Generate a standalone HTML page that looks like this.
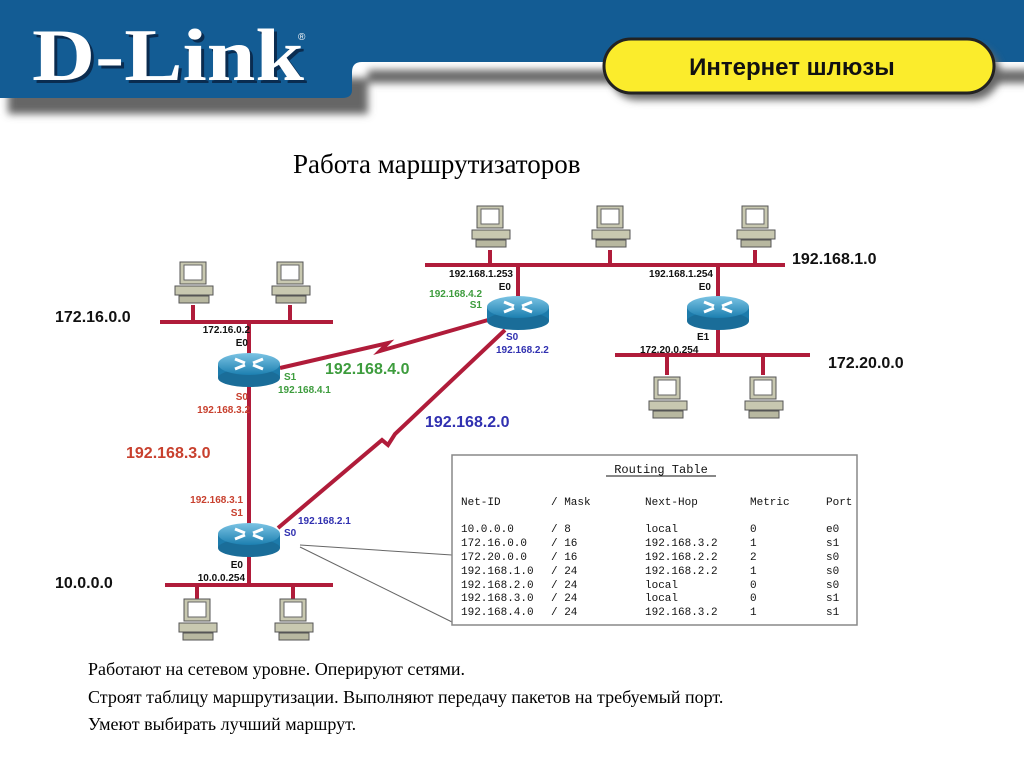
<!DOCTYPE html>
<html><head><meta charset="utf-8"><style>
body{margin:0;width:1024px;height:768px;overflow:hidden;background:#fff;font-family:"Liberation Sans",sans-serif}
</style></head><body>
<svg width="1024" height="768" viewBox="0 0 1024 768" xmlns="http://www.w3.org/2000/svg">
<defs>
<linearGradient id="rg" x1="0" y1="0" x2="0" y2="1"><stop offset="0" stop-color="#7cc4e4"/><stop offset="1" stop-color="#1c7fb0"/></linearGradient>
<filter id="bl" x="-10%" y="-50%" width="120%" height="200%"><feGaussianBlur stdDeviation="4"/></filter>
<g id="pc">
<rect x="-13" y="0" width="26" height="22" fill="#c8c8b0" stroke="#555" stroke-width="1"/>
<rect x="-9" y="3" width="18" height="15" fill="#fff" stroke="#666" stroke-width="1"/>
<rect x="-18" y="24" width="38" height="9" fill="#c8c8b0" stroke="#555"/>
<rect x="-14" y="34" width="30" height="7" fill="#b8b8a0" stroke="#555"/>
</g>
<g id="rt">
<rect x="-31" y="-4" width="62" height="14" fill="#1d7bab"/>
<ellipse cx="0" cy="10" rx="31" ry="9" fill="#1a6d99"/>
<ellipse cx="0" cy="-4" rx="31" ry="11" fill="url(#rg)"/>
<path d="M-14,-9 L-4,-5 M14,-9 L4,-5 M-14,1 L-4,-3 M14,1 L4,-3" stroke="#fff" stroke-width="3"/>
</g>
</defs>
<!-- header -->
<path d="M0,70 L360,70 L360,106 L0,106 Z M360,62 L1024,62 L1024,75 L360,75Z" fill="#666" filter="url(#bl)" transform="translate(8,8)"/>
<path d="M0,0 L1024,0 L1024,62 L362,62 Q352,62 352,72 L352,90 Q352,98 342,98 L0,98Z" fill="#135c94"/>
<text x="32" y="80" font-family="Liberation Serif,serif" font-weight="bold" font-size="74" fill="#0a2c50" textLength="272" lengthAdjust="spacingAndGlyphs" transform="translate(3,3)">D-Link</text>
<text x="32" y="80" font-family="Liberation Serif,serif" font-weight="bold" font-size="74" fill="#fff" textLength="272" lengthAdjust="spacingAndGlyphs">D-Link</text>
<text x="298" y="40" font-size="10" fill="#fff">®</text>
<rect x="610" y="46" width="390" height="54" rx="27" fill="#666" filter="url(#bl)"/>
<rect x="604" y="39" width="390" height="54" rx="27" fill="#fbec2c" stroke="#222" stroke-width="3"/>
<text x="792" y="75" text-anchor="middle" font-weight="bold" font-size="24" fill="#111">Интернет шлюзы</text>
<text x="293" y="173" font-family="Liberation Serif,serif" font-size="27" fill="#000">Работа маршрутизаторов</text>
<!-- lines -->
<g stroke="#b01c3a" stroke-width="4" fill="none">
<line x1="160" y1="322" x2="333" y2="322"/>
<line x1="193" y1="305" x2="193" y2="322"/><line x1="290" y1="305" x2="290" y2="322"/>
<line x1="249" y1="322" x2="249" y2="585"/>
<line x1="165" y1="585" x2="333" y2="585"/>
<line x1="197" y1="585" x2="197" y2="600"/><line x1="293" y1="585" x2="293" y2="600"/>
<line x1="425" y1="265" x2="785" y2="265"/>
<line x1="490" y1="250" x2="490" y2="265"/><line x1="610" y1="250" x2="610" y2="265"/><line x1="755" y1="250" x2="755" y2="265"/>
<line x1="518" y1="265" x2="518" y2="300"/>
<line x1="718" y1="265" x2="718" y2="355"/>
<line x1="615" y1="355" x2="810" y2="355"/>
<line x1="667" y1="355" x2="667" y2="375"/><line x1="763" y1="355" x2="763" y2="375"/>
<polyline points="280,368 388,343 380,351 495,318"/>
<polyline points="505,330 395,434 388,445 382,440 278,528"/>
</g>
<line x1="300" y1="545" x2="452" y2="555" stroke="#666" stroke-width="1"/>
<line x1="300" y1="547" x2="452" y2="622" stroke="#666" stroke-width="1"/>
<use href="#pc" x="193" y="262"/><use href="#pc" x="290" y="262"/>
<use href="#pc" x="490" y="206"/><use href="#pc" x="610" y="206"/><use href="#pc" x="755" y="206"/>
<use href="#pc" x="667" y="377"/><use href="#pc" x="763" y="377"/>
<use href="#pc" x="197" y="599"/><use href="#pc" x="293" y="599"/>
<use href="#rt" x="249" y="368"/><use href="#rt" x="518" y="311"/><use href="#rt" x="718" y="311"/><use href="#rt" x="249" y="538"/>
<!-- labels -->
<g font-weight="bold">
<text x="55" y="322" font-size="16" fill="#111">172.16.0.0</text>
<text x="792" y="264" font-size="16" fill="#111">192.168.1.0</text>
<text x="828" y="368" font-size="16" fill="#111">172.20.0.0</text>
<text x="55" y="588" font-size="16" fill="#111">10.0.0.0</text>
<text x="126" y="458" font-size="16" fill="#c8402e">192.168.3.0</text>
<text x="325" y="374" font-size="16" fill="#3d9c3d">192.168.4.0</text>
<text x="425" y="427" font-size="16" fill="#3030b0">192.168.2.0</text>
<g font-size="10">
<text x="250" y="333" text-anchor="end" fill="#111">172.16.0.2</text><text x="248" y="346" text-anchor="end" fill="#111">E0</text>
<text x="284" y="380" fill="#3d9c3d">S1</text><text x="278" y="393" fill="#3d9c3d">192.168.4.1</text>
<text x="248" y="400" text-anchor="end" fill="#c8402e">S0</text><text x="250" y="413" text-anchor="end" fill="#c8402e">192.168.3.2</text>
<text x="513" y="277" text-anchor="end" fill="#111">192.168.1.253</text><text x="511" y="290" text-anchor="end" fill="#111">E0</text>
<text x="482" y="297" text-anchor="end" fill="#3d9c3d">192.168.4.2</text><text x="482" y="308" text-anchor="end" fill="#3d9c3d">S1</text>
<text x="506" y="340" fill="#3030b0">S0</text><text x="496" y="353" fill="#3030b0">192.168.2.2</text>
<text x="713" y="277" text-anchor="end" fill="#111">192.168.1.254</text><text x="711" y="290" text-anchor="end" fill="#111">E0</text>
<text x="697" y="340" fill="#111">E1</text><text x="640" y="353" fill="#111">172.20.0.254</text>
<text x="243" y="503" text-anchor="end" fill="#c8402e">192.168.3.1</text><text x="243" y="516" text-anchor="end" fill="#c8402e">S1</text>
<text x="298" y="524" fill="#3030b0">192.168.2.1</text><text x="284" y="536" fill="#3030b0">S0</text>
<text x="243" y="568" text-anchor="end" fill="#111">E0</text><text x="245" y="581" text-anchor="end" fill="#111">10.0.0.254</text>
</g></g>
<!-- table -->
<rect x="452" y="455" width="405" height="170" fill="#fff" stroke="#888" stroke-width="1.5"/>
<g font-family="Liberation Mono,monospace" font-size="11" fill="#111">
<text x="661" y="473" text-anchor="middle" font-size="12">Routing Table</text>
<line x1="606" y1="476" x2="716" y2="476" stroke="#111"/>
<text x="461" y="505">Net-ID</text><text x="551" y="505">/ Mask</text><text x="645" y="505">Next-Hop</text><text x="750" y="505">Metric</text><text x="826" y="505">Port</text>
<text x="461" y="532">10.0.0.0</text><text x="551" y="532">/ 8</text><text x="645" y="532">local</text><text x="750" y="532">0</text><text x="826" y="532">e0</text>
<text x="461" y="546">172.16.0.0</text><text x="551" y="546">/ 16</text><text x="645" y="546">192.168.3.2</text><text x="750" y="546">1</text><text x="826" y="546">s1</text>
<text x="461" y="560">172.20.0.0</text><text x="551" y="560">/ 16</text><text x="645" y="560">192.168.2.2</text><text x="750" y="560">2</text><text x="826" y="560">s0</text>
<text x="461" y="574">192.168.1.0</text><text x="551" y="574">/ 24</text><text x="645" y="574">192.168.2.2</text><text x="750" y="574">1</text><text x="826" y="574">s0</text>
<text x="461" y="588">192.168.2.0</text><text x="551" y="588">/ 24</text><text x="645" y="588">local</text><text x="750" y="588">0</text><text x="826" y="588">s0</text>
<text x="461" y="601">192.168.3.0</text><text x="551" y="601">/ 24</text><text x="645" y="601">local</text><text x="750" y="601">0</text><text x="826" y="601">s1</text>
<text x="461" y="615">192.168.4.0</text><text x="551" y="615">/ 24</text><text x="645" y="615">192.168.3.2</text><text x="750" y="615">1</text><text x="826" y="615">s1</text>
</g>
<g font-family="Liberation Serif,serif" font-size="18" fill="#000">
<text x="88" y="675">Работают на сетевом уровне. Оперируют сетями.</text>
<text x="88" y="703">Строят таблицу маршрутизации. Выполняют передачу пакетов на требуемый порт.</text>
<text x="88" y="730">Умеют выбирать лучший маршрут.</text>
</g>
</svg>
</body></html>
